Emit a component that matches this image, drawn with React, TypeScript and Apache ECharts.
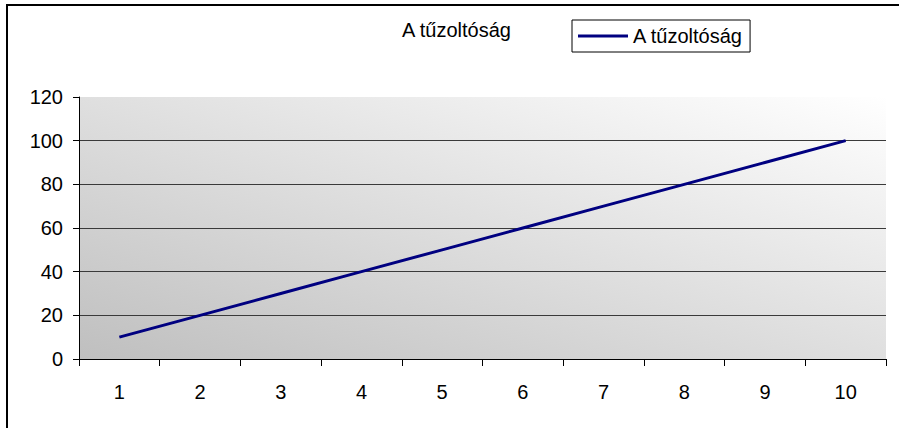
import React, { useEffect, useRef } from "react";
import * as echarts from "echarts";

// Chart data
const seriesName = "A tűzoltóság";
const categories = ["1", "2", "3", "4", "5", "6", "7", "8", "9", "10"];
const values = [10, 20, 30, 40, 50, 60, 70, 80, 90, 100];
const yMin = 0;
const yMax = 120;
const yStep = 20;

const FONT = "'Liberation Sans', Arial, sans-serif";

export default function App() {
  const ref = useRef<HTMLDivElement>(null);

  useEffect(() => {
    if (!ref.current) return;
    const chart = echarts.init(ref.current, undefined, { renderer: "svg" });
    const gridColor = "#3a3a3a";
    chart.setOption({
      animation: false,
      backgroundColor: "#ffffff",
      textStyle: { fontFamily: FONT },
      graphic: [
        {
          type: "rect",
          shape: { x: 7, y: 5, width: 1000, height: 1000 },
          style: { fill: "none", stroke: "#000", lineWidth: 2 },
          silent: true,
        },
      ],
      title: {
        text: seriesName,
        left: 402,
        top: 20,
        padding: 0,
        textStyle: {
          fontFamily: FONT,
          fontSize: 20,
          fontWeight: "normal",
          color: "#000",
        },
      },
      legend: {
        left: 572,
        top: 20,
        padding: [6, 7, 6, 6],
        borderColor: "#000",
        borderWidth: 1,
        backgroundColor: "#fff",
        icon: "rect",
        itemWidth: 50,
        itemHeight: 3,
        textStyle: { fontFamily: FONT, fontSize: 20, color: "#000" },
        data: [seriesName],
      },
      grid: {
        left: 79,
        top: 97,
        right: 13,
        bottom: 69,
        show: true,
        borderWidth: 0,
        backgroundColor: new echarts.graphic.LinearGradient(0, 1, 1, 0, [
          { offset: 0, color: "#bfbfbf" },
          { offset: 1, color: "#ffffff" },
        ]),
      },
      xAxis: {
        type: "category",
        data: categories,
        boundaryGap: true,
        axisLine: { lineStyle: { color: "#000", width: 1 } },
        axisTick: { show: true, length: 7, lineStyle: { color: "#000" } },
        axisLabel: {
          color: "#000",
          fontSize: 20,
          fontFamily: FONT,
          margin: 23,
        },
        splitLine: { show: false },
      },
      yAxis: {
        type: "value",
        min: yMin,
        max: yMax,
        interval: yStep,
        axisLine: { show: true, lineStyle: { color: "#000", width: 1 } },
        axisTick: { show: true, length: 6, lineStyle: { color: "#000" } },
        axisLabel: {
          color: "#000",
          fontSize: 20,
          fontFamily: FONT,
          margin: 16,
        },
        splitLine: {
          show: true,
          lineStyle: {
            color: [
              gridColor,
              gridColor,
              gridColor,
              gridColor,
              gridColor,
              gridColor,
              "transparent",
            ],
            width: 1,
          },
        },
      },
      series: [
        {
          name: seriesName,
          type: "line",
          data: values,
          symbol: "none",
          showSymbol: false,
          lineStyle: { color: "#000080", width: 3 },
          itemStyle: { color: "#000080" },
        },
      ],
    });
    return () => chart.dispose();
  }, []);

  return (
    <div
      ref={ref}
      style={{ position: "fixed", left: 0, top: 0, width: 899, height: 428 }}
    />
  );
}
